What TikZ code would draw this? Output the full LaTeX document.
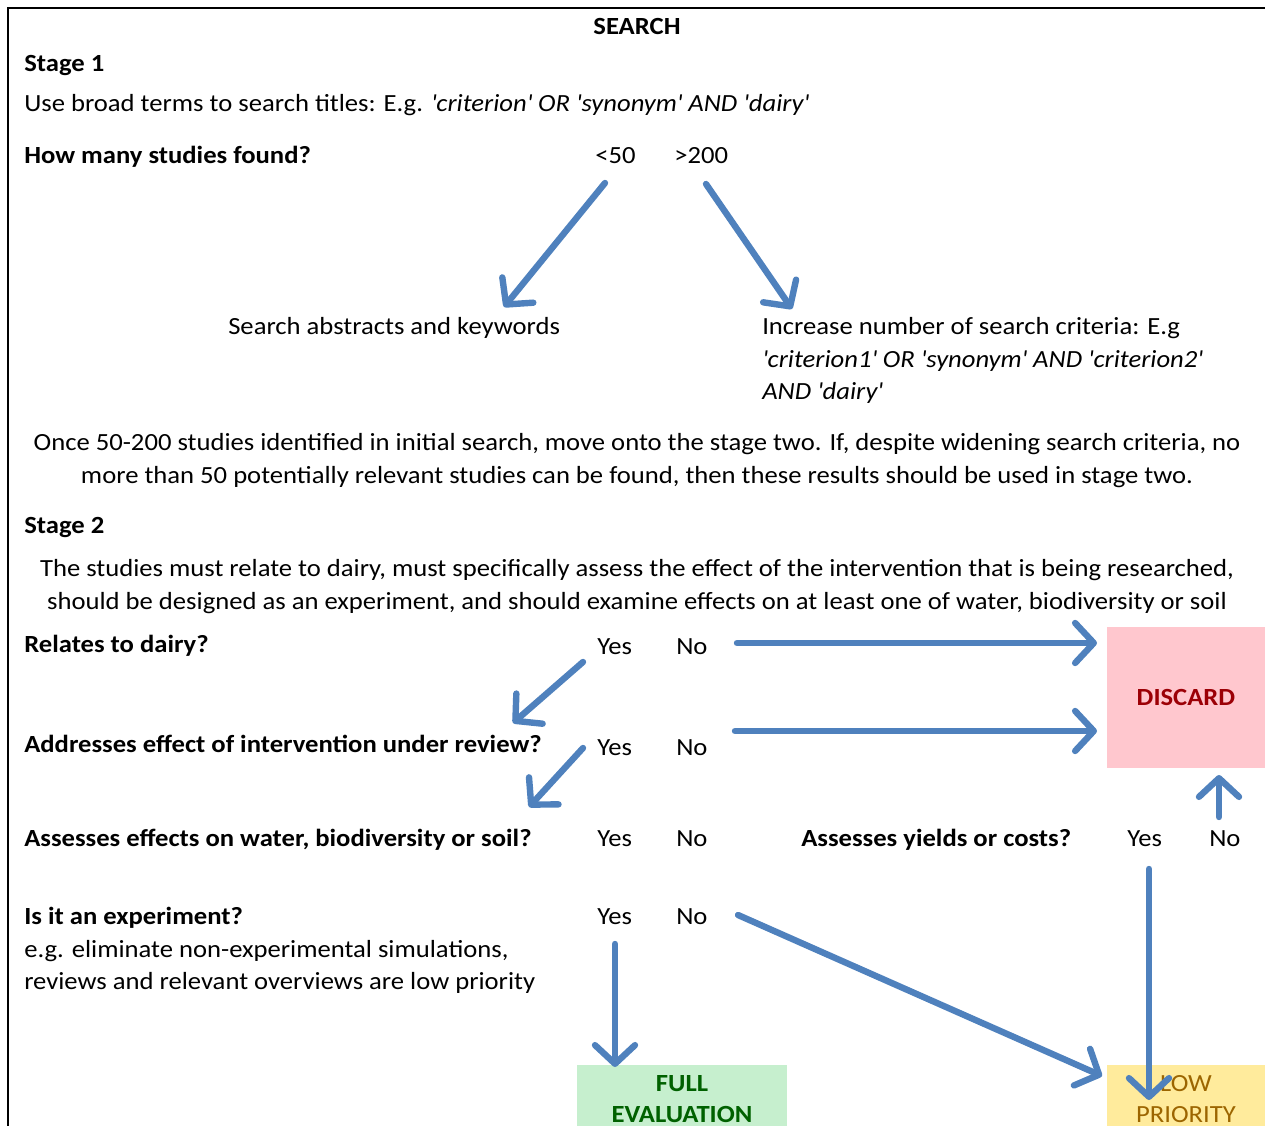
\documentclass[tikz,border=0pt]{standalone}
\usepackage{fontspec}
\setmainfont{Carlito}[FakeStretch=1.08]
\usetikzlibrary{arrows.meta}
\definecolor{arr}{RGB}{79,129,189}
\definecolor{discfill}{RGB}{255,199,206}
\definecolor{disctext}{RGB}{156,0,6}
\definecolor{fullfill}{RGB}{198,239,206}
\definecolor{fulltext}{RGB}{0,97,0}
\definecolor{lowfill}{RGB}{255,235,156}
\definecolor{lowtext}{RGB}{156,101,0}
\newcommand{\qq}{\textquotesingle}
\begin{document}
\begin{tikzpicture}[x=0.75pt,y=-0.75pt,
  txt/.style={anchor=base west,inner sep=0pt,font=\fontsize{18.5}{24.75}\selectfont},
  ctr/.style={anchor=base,inner sep=0pt,font=\fontsize{18.5}{24.75}\selectfont},
  bld/.style={txt,font=\fontsize{18.5}{24.75}\selectfont\bfseries},
  bctr/.style={ctr,font=\fontsize{18.5}{24.75}\selectfont\bfseries},
  flow/.style={draw=arr,line width=4.8pt,line cap=round,line join=round,
    -{Straight Barb[length=14pt,width=30pt,line cap=round,line join=round]}}]
\useasboundingbox (0,0) rectangle (1265,1126);
% frame
\draw[line width=1.5pt] (8,1126) -- (8,8) -- (1265,8);
% boxes
\fill[discfill] (1107,627) rectangle (1265,768);
\fill[fullfill] (577,1065) rectangle (787,1126);
\fill[lowfill] (1107,1065) rectangle (1265,1126);
\node[bctr,text=disctext] (discard) at (1186,706) {DISCARD};
\node[bctr,text=fulltext] (full1) at (682,1091) {FULL};
\node[bctr,text=fulltext] (full2) at (682,1122) {EVALUATION};
\node[ctr,text=lowtext] (low1) at (1186,1091) {LOW};
\node[ctr,text=lowtext] (low2) at (1186,1122) {PRIORITY};
% texts
\node[bctr] (search) at (637,35) {SEARCH};
\node[bld] (st1) at (24,72) {Stage 1};
\node[txt] (broad) at (24,112) {Use broad terms to search titles: E.g. \textit{\qq criterion\qq\ OR \qq synonym\qq\ AND \qq dairy\qq}};
\node[bld] (howmany) at (24,164) {How many studies found?};
\node[txt] (lt50) at (595,164) {<50};
\node[txt] (gt200) at (674,164) {>200};
\node[txt] (abstr) at (228,335) {Search abstracts and keywords};
\node[txt] (incr1) at (762,335) {Increase number of search criteria: E.g};
\node[txt] (incr2) at (762,368) {\itshape \qq criterion1\qq\ OR \qq synonym\qq\ AND \qq criterion2\qq};
\node[txt] (incr3) at (762,400) {\itshape AND \qq dairy\qq};
\node[ctr] (once1) at (637,451) {Once 50-200 studies identified in initial search, move onto the stage two. If, despite widening search criteria, no};
\node[ctr] (once2) at (637,484) {more than 50 potentially relevant studies can be found, then these results should be used in stage two.};
\node[bld] (st2) at (24,534) {Stage 2};
\node[ctr] (must1) at (637,577) {The studies must relate to dairy, must specifically assess the effect of the intervention that is being researched,};
\node[ctr] (must2) at (637,610) {should be designed as an experiment, and should examine effects on at least one of water, biodiversity or soil};
\node[bld] (q1) at (24,653) {Relates to dairy?};
\node[txt] (y1) at (597,655) {Yes};
\node[txt] (n1) at (676,655) {No};
\node[bld] (q2) at (24,753) {Addresses effect of intervention under review?};
\node[txt] (y2) at (597,756) {Yes};
\node[txt] (n2) at (676,756) {No};
\node[bld] (q3) at (24,846) {Assesses effects on water, biodiversity or soil?};
\node[txt] (y3) at (597,846) {Yes};
\node[txt] (n3) at (676,846) {No};
\node[bld] (q5) at (801,846) {Assesses yields or costs?};
\node[txt] (y5) at (1127,846) {Yes};
\node[txt] (n5) at (1209,846) {No};
\node[bld] (q4) at (24,924) {Is it an experiment?};
\node[txt] (y4) at (597,924) {Yes};
\node[txt] (n4) at (676,924) {No};
\node[txt] (eg1) at (24,957) {e.g. eliminate non-experimental simulations,};
\node[txt] (eg2) at (24,989) {reviews and relevant overviews are low priority};
% connector endpoints
\coordinate (a1s) at (605,183); \coordinate (a1e) at (504,307);
\coordinate (a2s) at (706,184); \coordinate (a2e) at (792,309);
\coordinate (a3s) at (737,643); \coordinate (a3e) at (1097,643);
\coordinate (a4s) at (583,662); \coordinate (a4e) at (513,723);
\coordinate (a5s) at (735,731); \coordinate (a5e) at (1097,731);
\coordinate (a6s) at (583,748); \coordinate (a6e) at (529,807);
\coordinate (a7s) at (1219,817); \coordinate (a7e) at (1219,775);
\coordinate (a8s) at (615,944); \coordinate (a8e) at (615,1067);
\coordinate (a9s) at (738,915); \coordinate (a9e) at (1102,1076);
\coordinate (a10s) at (1149,869); \coordinate (a10e) at (1149,1100);
\foreach \i in {1,...,10}{\draw[flow] (a\i s) -- (a\i e);}
\end{tikzpicture}
\end{document}
